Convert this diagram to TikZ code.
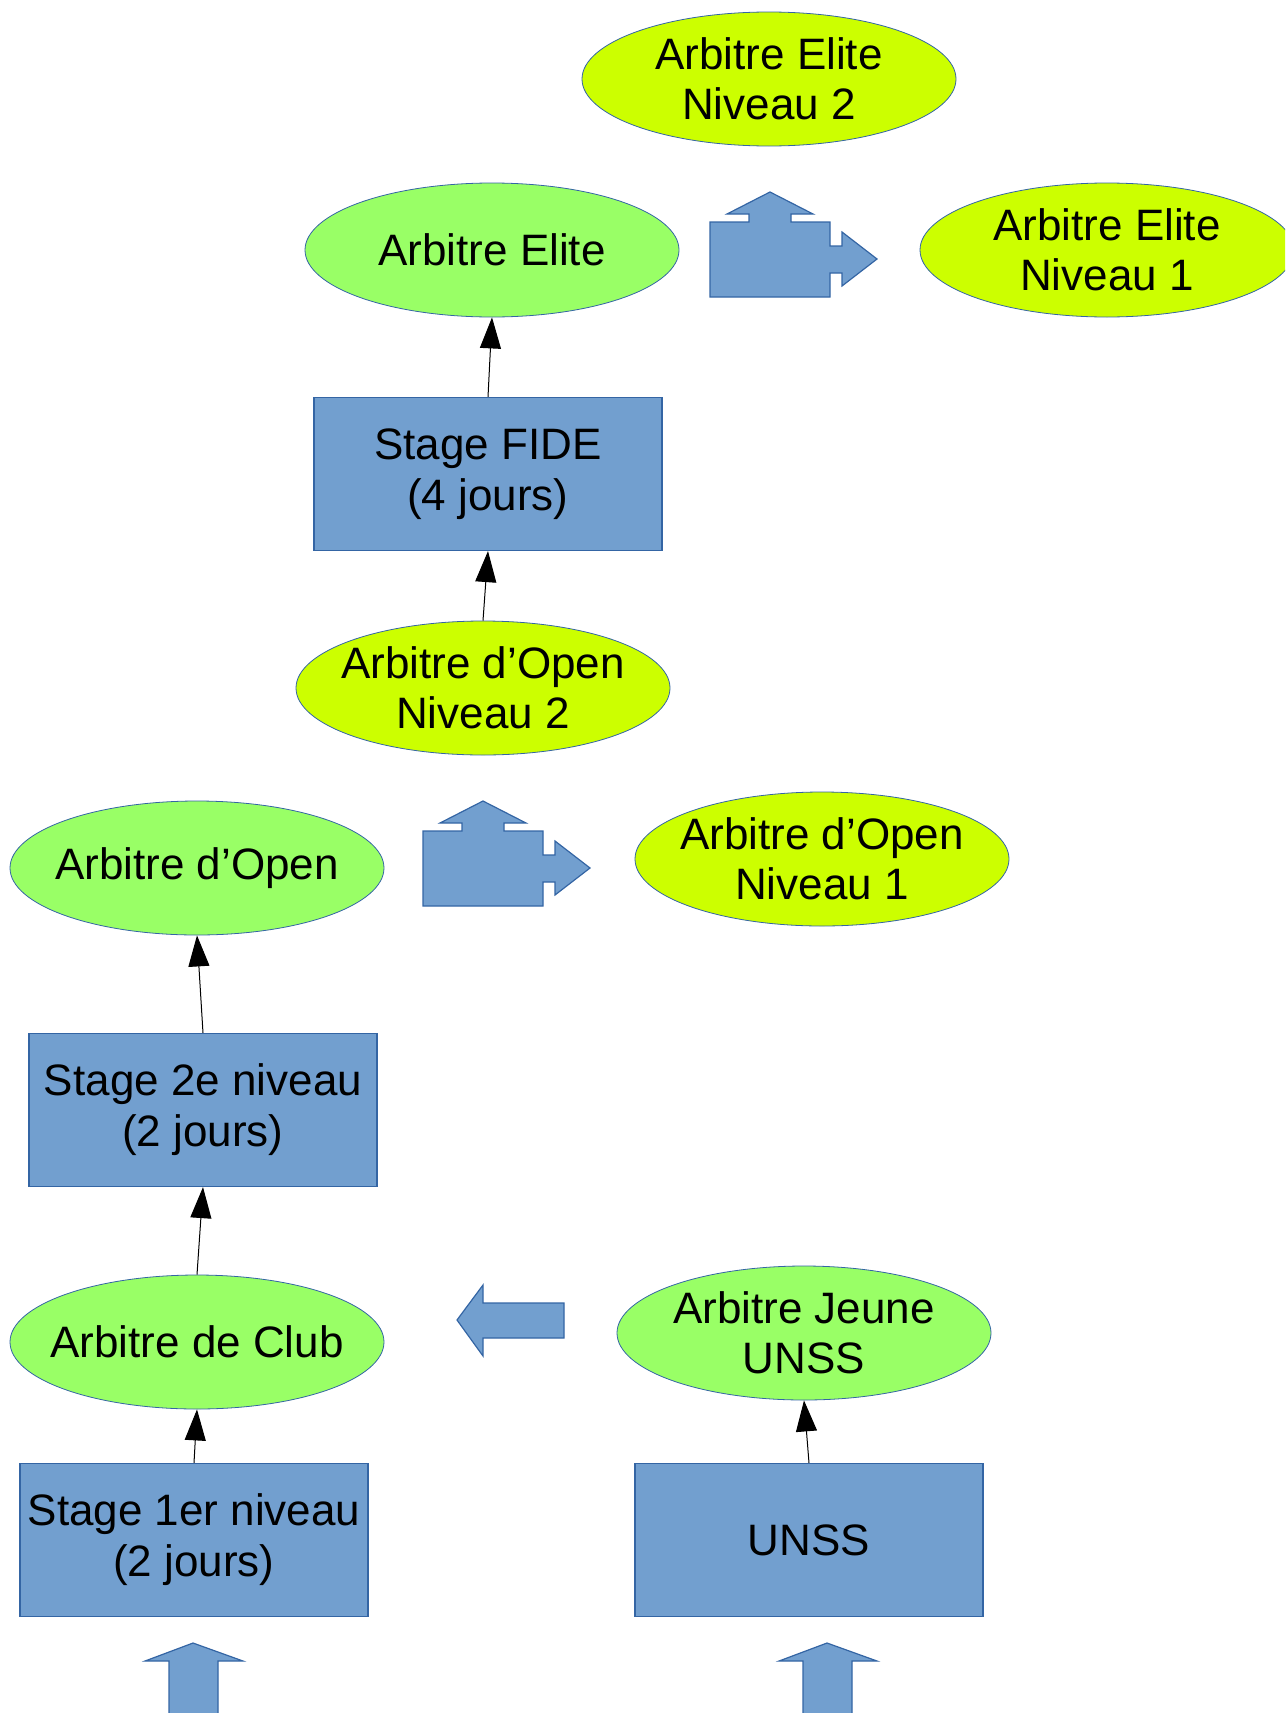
\documentclass[tikz,border=0pt]{standalone}
\usepackage{fontspec}
\setmainfont{Liberation Sans}
\usetikzlibrary{shapes.geometric,arrows.meta}

\definecolor{vertclair}{HTML}{99FF66}
\definecolor{jaunevert}{HTML}{CCFF00}
\definecolor{bleufond}{HTML}{729FCF}
\definecolor{bleutrait}{HTML}{3465A4}

\begin{document}
\begin{tikzpicture}[x=1pt,y=-1pt,
    every node/.style={font=\fontsize{44}{50}\selectfont,align=center},
    arbitre/.style={ellipse,draw=bleutrait,fill=vertclair,line width=0.8pt,
        minimum width=374,minimum height=134,inner xsep=-60pt,inner ysep=-10pt},
    niveau/.style={arbitre,fill=jaunevert},
    stage/.style={rectangle,draw=bleutrait,fill=bleufond,line width=1.2pt,
        minimum width=348,minimum height=153,inner sep=0pt,
        font=\fontsize{44}{51}\selectfont},
    lien/.style={-{Triangle[length=31pt,width=21pt]},line width=1pt,black},
    bloc/.style={draw=bleutrait,fill=bleufond,line width=1.2pt,line join=miter}]

    \useasboundingbox (0,0) rectangle (1285,1713);
    \clip (0,0) rectangle (1285,1713);

    % niveaux du haut
    \node[niveau] (eliteB) at (769,79) {Arbitre Elite\\Niveau 2};
    \node[arbitre] (elite) at (492,250) {Arbitre Elite};
    \node[niveau] (eliteA) at (1107,250) {Arbitre Elite\\Niveau 1};
    \node[stage] (fide) at (488,474) {Stage FIDE\\(4 jours)};
    \node[niveau] (openB) at (483,688) {Arbitre d’Open\\Niveau 2};

    % niveaux open
    \node[arbitre] (open) at (197,868) {Arbitre d’Open};
    \node[niveau] (openA) at (822,859) {Arbitre d’Open\\Niveau 1};
    \node[stage] (stage2) at (203,1110) {Stage 2e niveau\\(2 jours)};

    % niveaux du bas
    \node[arbitre] (club) at (197,1342) {Arbitre de Club};
    \node[arbitre] (jeune) at (804,1333) {Arbitre Jeune\\UNSS};
    \node[stage] (stage1) at (194,1540) {Stage 1er niveau\\(2 jours)};
    \node[stage] (unss) at (809,1540) {UNSS};

    % liens
    \draw[lien] (fide.north) -- (elite.south);
    \draw[lien] (openB.north) -- (fide.south);
    \draw[lien] (stage2.north) -- (open.south);
    \draw[lien] (club.north) -- (stage2.south);
    \draw[lien] (stage1.north) -- (club.south);
    \draw[lien] (unss.north) -- (jeune.south);

    % fleches doubles (haut + droite)
    \foreach \dx/\dy in {0/0,-287/609}{
        \begin{scope}[shift={(\dx,\dy)}]
            \draw[bloc] (710,297) -- (710,222) -- (749,222) -- (749,214)
                -- (727,214) -- (770,192) -- (813,214) -- (791,214)
                -- (791,222) -- (830,222) -- (830,246) -- (842,246)
                -- (842,232) -- (877,259) -- (842,286) -- (842,273)
                -- (830,273) -- (830,297) -- cycle;
        \end{scope}
    }

    % fleche vers la gauche
    \draw[bloc] (564,1303) -- (483,1303) -- (483,1285) -- (457,1320)
        -- (483,1356) -- (483,1338) -- (564,1338) -- cycle;

    % fleches du bas
    \foreach \dx in {0,634}{
        \draw[bloc,xshift=\dx] (169,1725) -- (169,1661) -- (145,1661) -- (193,1643)
            -- (243,1661) -- (218,1661) -- (218,1725) -- cycle;
    }
\end{tikzpicture}
\end{document}
